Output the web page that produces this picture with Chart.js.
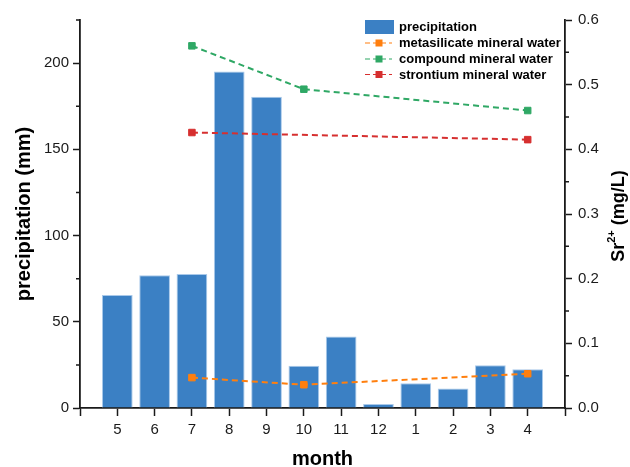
<!DOCTYPE html>
<html>
<head>
<meta charset="utf-8">
<title>Precipitation and Sr2+</title>
<script src="https://cdn.jsdelivr.net/npm/chart.js@4.4.1/dist/chart.umd.min.js"></script>
<style>
    html, body { margin: 0; padding: 0; background: #fff; }
    #wrap { width: 630px; height: 467px; }
</style>
</head>
<body>
<div id="wrap"><canvas id="rainChart" width="630" height="467"></canvas></div>
<script>
// ================= DATA =================
const months = ["5", "6", "7", "8", "9", "10", "11", "12", "1", "2", "3", "4"];
const precipitation = [65.6, 77.0, 77.7, 195.2, 180.5, 24.5, 41.5, 2.3, 14.4, 11.3, 24.8, 22.5];
const metasilicate = [null, null, 0.047, null, null, 0.036, null, null, null, null, null, 0.053];
const compound = [null, null, 0.560, null, null, 0.493, null, null, null, null, null, 0.460];
const strontium = [null, null, 0.426, null, null, null, null, null, null, null, null, 0.415];

const leftTicks = [0, 50, 100, 150, 200];
const leftMinor = [25, 75, 125, 175, 225];
const rightTicks = [0, 0.1, 0.2, 0.3, 0.4, 0.5, 0.6];
const rightMinor = [0.05, 0.15, 0.25, 0.35, 0.45, 0.55];

// empty slot on each side of the month axis
const pad = arr => [null, ...arr, null];
const labels = ["", ...months, ""];

const FONT = "'Liberation Sans', Arial, Helvetica, sans-serif";
const AXIS = "#1a1a1a";
const BLUE = "#3b80c4";
const ORANGE = "#ff7f0e";
const GREEN = "#2fa865";
const RED = "#d62f2f";

// ================= PLUGINS =================
const minorTicks = {
    id: "minorTicks",
    afterDraw(chart) {
        const ctx = chart.ctx;
        const y = chart.scales.y;
        const y1 = chart.scales.y1;
        ctx.save();
        ctx.strokeStyle = AXIS;
        ctx.lineWidth = 1.5;
        ctx.beginPath();
        leftMinor.forEach(v => {
            const p = y.getPixelForValue(v);
            ctx.moveTo(y.right - 4, p);
            ctx.lineTo(y.right, p);
        });
        rightMinor.forEach(v => {
            const p = y1.getPixelForValue(v);
            ctx.moveTo(y1.left, p);
            ctx.lineTo(y1.left + 4, p);
        });
        ctx.stroke();
        ctx.restore();
    }
};

const rightTitle = {
    id: "rightTitle",
    afterDraw(chart) {
        const ctx = chart.ctx;
        const y1 = chart.scales.y1;
        const cy = (y1.top + y1.bottom) / 2 + 2;
        ctx.save();
        ctx.translate(619, cy);
        ctx.rotate(-Math.PI / 2);
        ctx.fillStyle = "#000";
        ctx.textBaseline = "middle";
        ctx.textAlign = "left";
        const big = "bold 18px " + FONT;
        const small = "bold 11px " + FONT;
        ctx.font = big;
        const w1 = ctx.measureText("Sr").width;
        const w3 = ctx.measureText(" (mg/L)").width;
        ctx.font = small;
        const w2 = ctx.measureText("2+").width;
        let x = -(w1 + w2 + w3) / 2;
        ctx.font = big;
        ctx.fillText("Sr", x, 0);
        x += w1;
        ctx.font = small;
        ctx.fillText("2+", x, -7);
        x += w2;
        ctx.font = big;
        ctx.fillText(" (mg/L)", x, 0);
        ctx.restore();
    }
};

const boxLegend = {
    id: "boxLegend",
    afterDraw(chart) {
        const ctx = chart.ctx;
        const ds = chart.data.datasets;
        const x0 = 365;
        const rows = [26.5, 43, 59, 74.5];
        ctx.save();
        ctx.font = "bold 13px " + FONT;
        ctx.textBaseline = "middle";
        ctx.fillStyle = "#000";
        ds.forEach((d, i) => {
            const yy = rows[i];
            if (d.type === "bar") {
                ctx.fillStyle = d.backgroundColor;
                ctx.fillRect(x0, yy - 6.5, 29, 14);
            } else {
                ctx.strokeStyle = d.borderColor;
                ctx.lineWidth = 1.2;
                ctx.setLineDash([5, 3]);
                ctx.beginPath();
                ctx.moveTo(x0, yy);
                ctx.lineTo(x0 + 27, yy);
                ctx.stroke();
                ctx.setLineDash([]);
                ctx.fillStyle = d.borderColor;
                ctx.fillRect(x0 + 10.5, yy - 3.5, 7, 7);
            }
            ctx.fillStyle = "#000";
            ctx.fillText(d.label, 399, yy + 0.5);
        });
        ctx.restore();
    }
};

// ================= CHART =================
function lineSet(label, data, color) {
    return {
        type: "line",
        label: label,
        data: pad(data),
        yAxisID: "y1",
        borderColor: color,
        backgroundColor: color,
        borderWidth: 2,
        borderDash: [6, 4],
        pointStyle: "rect",
        pointRadius: 4.6,
        pointBorderWidth: 1,
        spanGaps: true,
        tension: 0,
        order: 0
    };
}

new Chart(document.getElementById("rainChart"), {
    data: {
        labels: labels,
        datasets: [
            {
                type: "bar",
                label: "precipitation",
                data: pad(precipitation),
                yAxisID: "y",
                backgroundColor: BLUE,
                borderColor: "#a9c9ea",
                borderWidth: 1,
                categoryPercentage: 1,
                barPercentage: 0.823,
                order: 1
            },
            lineSet("metasilicate mineral water", metasilicate, ORANGE),
            lineSet("compound mineral water", compound, GREEN),
            lineSet("strontium mineral water", strontium, RED)
        ]
    },
    options: {
        responsive: false,
        animation: false,
        devicePixelRatio: 1,
        layout: { padding: { top: 20, left: 0, right: 0, bottom: 0 } },
        plugins: {
            legend: { display: false },
            tooltip: { enabled: false }
        },
        scales: {
            x: {
                type: "category",
                offset: false,
                afterFit: s => { s.height = 59; },
                border: { color: AXIS, width: 1.8 },
                grid: { offset: false, drawOnChartArea: false, tickLength: 8, tickColor: AXIS, tickWidth: 1.5 },
                ticks: {
                    autoSkip: false, maxRotation: 0, padding: 5,
                    color: "#1a1a1a", font: { family: FONT, size: 15 }
                },
                title: {
                    display: true, text: "month", color: "#000",
                    font: { family: FONT, size: 20, weight: "bold", lineHeight: 0.8 },
                    padding: { top: 0, bottom: 0 }
                }
            },
            y: {
                position: "left",
                min: 0, max: 225,
                afterFit: s => { s.width = 80; },
                afterBuildTicks: s => { s.ticks = leftTicks.map(v => ({ value: v })); },
                border: { color: AXIS, width: 1.8 },
                grid: { drawOnChartArea: false, tickLength: 7, tickColor: AXIS, tickWidth: 1.5 },
                ticks: { padding: 4, color: "#1a1a1a", font: { family: FONT, size: 15 } },
                title: {
                    display: true, text: "precipitation (mm)", color: "#000",
                    font: { family: FONT, size: 20, weight: "bold", lineHeight: 1.2 },
                    padding: { top: 12, bottom: 0 }
                }
            },
            y1: {
                position: "right",
                min: 0, max: 0.6,
                afterFit: s => { s.width = 65; },
                afterBuildTicks: s => { s.ticks = rightTicks.map(v => ({ value: v })); },
                border: { color: AXIS, width: 1.8 },
                grid: { drawOnChartArea: false, tickLength: 7, tickColor: AXIS, tickWidth: 1.5 },
                ticks: {
                    padding: 6, color: "#1a1a1a", font: { family: FONT, size: 15 },
                    callback: v => Number(v).toFixed(1)
                }
            }
        }
    },
    plugins: [minorTicks, rightTitle, boxLegend]
});
</script>
</body>
</html>
